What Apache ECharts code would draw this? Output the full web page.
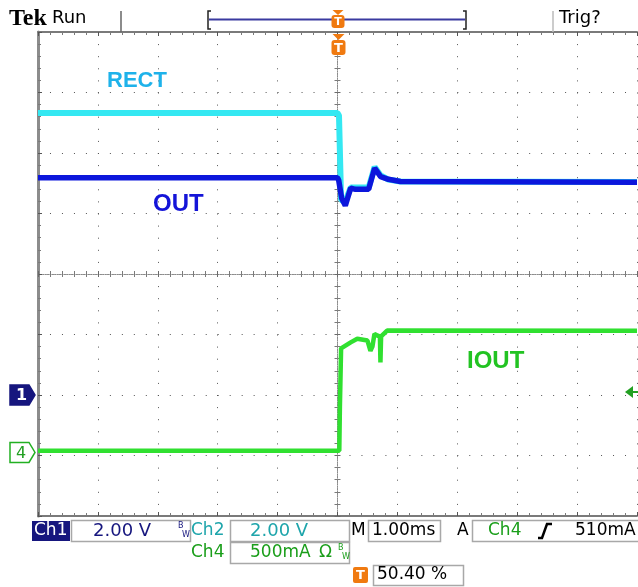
<!DOCTYPE html>
<html><head><meta charset="utf-8">
<script src="https://cdn.jsdelivr.net/npm/echarts@6/dist/echarts.min.js"></script>
<style>html,body{margin:0;padding:0;background:#fff}#c{width:638px;height:587px}</style>
</head><body><div id="c"></div>
<script>
// Time in ms (1.00 ms/div, trigger at 0); vertical values in screen divisions (0 = centre)
const rectT = [-5, 0, 0.025, 0.06, 0.13, 0.22, 0.52, 0.62, 0.72, 0.85, 1.05, 5];
const rectV = [2.66, 2.66, 2.62, 1.22, 1.20, 1.43, 1.43, 1.77, 1.63, 1.56, 1.53, 1.52];
const outT = [-5, 0, 0.02, 0.07, 0.13, 0.22, 0.30, 0.52, 0.62, 0.72, 0.85, 1.05, 5];
const outV = [1.59, 1.59, 1.55, 1.25, 1.13, 1.42, 1.40, 1.40, 1.75, 1.61, 1.565, 1.53, 1.515];
const ioutT = [-5, 0.03, 0.04, 0.06, 0.22, 0.33, 0.50, 0.55, 0.583, 0.617, 0.672, 0.708, 0.717, 0.728, 0.828, 5];
const ioutV = [-2.92, -2.92, -2.2, -1.23, -1.13, -1.07, -1.10, -1.27, -1.20, -0.99, -1.02, -1.03, -1.46, -1.03, -0.935, -0.94];
const ch1Ground = -2.0;     // div
const ch4Ground = -2.95;    // div
const trigLevel = -1.95;    // div (510 mA on Ch4)
const trigTime = 0;

const zip = (t, v) => t.map((x, i) => [x, v[i]]);
const G = {left: 38, top: 32, width: 599, height: 484};
const noLabel = {show: false};
function xa(extra) {
  return Object.assign({type: 'value', min: -5, max: 5, interval: 1, axisLabel: noLabel, splitLine: {show: false}}, extra);
}
function ya(extra) {
  return Object.assign({type: 'value', min: -4, max: 4, interval: 1, axisLabel: noLabel, splitLine: {show: false}}, extra);
}
const borderLine = c => ({onZero: false, lineStyle: {color: c, width: 2}});
const centreLine = {onZero: false, lineStyle: {color: '#8a8a8a', width: 1, type: [1, 1.4]}};
const tk = inside => ({inside: inside, length: 3, lineStyle: {color: '#6a6a6a'}});
const mtk = {show: true, splitNumber: 5, length: 3, lineStyle: {color: '#7a7a7a'}};

const chart = echarts.init(document.getElementById('c'));
chart.setOption({
  animation: false,
  backgroundColor: '#fff',
  grid: G,
  xAxis: [
    xa({position: 'bottom', axisLine: borderLine('#7a7a7a'), axisTick: {inside: true, length: 4, lineStyle: {color: '#555'}}, minorTick: mtk,
        splitLine: {show: true, lineStyle: {color: '#555', width: 1, type: [1, 11.1]}}}),
    xa({position: 'top', axisLine: borderLine('#7a7a7a'), axisTick: {inside: true, length: 4, lineStyle: {color: '#555'}}, minorTick: mtk}),
    xa({position: 'bottom', offset: -G.height / 2, axisLine: centreLine, axisTick: tk(true), minorTick: mtk}),
    xa({position: 'bottom', offset: -G.height / 2, axisLine: centreLine, axisTick: tk(false), minorTick: mtk})
  ],
  yAxis: [
    ya({position: 'left', axisLine: {onZero: false, lineStyle: {color: '#8c8c8c', width: 3}}, axisTick: {inside: true, length: 4, lineStyle: {color: '#555'}}, minorTick: mtk,
        splitLine: {show: true, lineStyle: {color: '#555', width: 1, type: [1, 10.98]}}}),
    ya({position: 'left', offset: -G.width / 2, axisLine: centreLine, axisTick: tk(true), minorTick: mtk}),
    ya({position: 'left', offset: -G.width / 2, axisLine: centreLine, axisTick: tk(false), minorTick: mtk})
  ],
  series: [
    {name: 'RECT', type: 'line', data: zip(rectT, rectV), symbol: 'none', silent: true, lineStyle: {color: '#34e8f2', width: 6}, z: 3},
    {name: 'OUT', type: 'line', data: zip(outT, outV), symbol: 'none', silent: true, lineStyle: {color: '#0c16dc', width: 5.5}, z: 4},
    {name: 'IOUT', type: 'line', data: zip(ioutT, ioutV), symbol: 'none', silent: true, lineStyle: {color: '#30e030', width: 4.5}, z: 5}
  ]
});

const px = (x, y) => chart.convertToPixel({gridIndex: 0}, [x, y]);
const y1 = px(0, ch1Ground)[1], y4 = px(0, ch4Ground)[1], yT = px(0, trigLevel)[1], xT = px(trigTime, 0)[0];
const ORANGE = '#f07a10', NAVY = '#16167e', TEAL = '#1ea5ab', GREEN = '#1a9e1a';
const F = 'DejaVu Sans';
const txt = (x, y, s, o) => ({type: 'text', x: x, y: y, z: 50, style: Object.assign({text: s, fill: '#000', font: '17px "' + F + '"', verticalAlign: 'middle'}, o || {})});
const box = (x, y, w, h) => ({type: 'rect', z: 40, shape: {x: x, y: y, width: w, height: h}, style: {fill: 'none', stroke: '#a8a8a8', lineWidth: 1.5}});
const pent = (yy, fill, stroke) => ({type: 'polygon', z: 50, shape: {points: [[10, yy - 10], [29, yy - 10], [35, yy], [29, yy + 10], [10, yy + 10]]}, style: {fill: fill, stroke: stroke, lineWidth: 1.5}});
const tMark = (x, yTop, w, triH, h, fs) => [
  {type: 'polygon', z: 50, shape: {points: [[x - w / 2 + 1, yTop], [x + w / 2 - 1, yTop], [x, yTop + triH]]}, style: {fill: ORANGE}},
  {type: 'rect', z: 50, shape: {x: x - w / 2, y: yTop + triH, width: w, height: h, r: 3}, style: {fill: ORANGE}},
  {type: 'text', z: 51, x: x, y: yTop + triH + h / 2 + 1, style: {text: 'T', fill: '#fff', font: 'bold ' + fs + 'px "' + F + '"', align: 'center', verticalAlign: 'middle'}}
];

const g = [
  // top bar
  txt(9, 19, 'Tek', {font: 'bold 24px "Liberation Serif"'}),
  txt(52, 18, 'Run', {font: '18px "' + F + '"'}),
  {type: 'line', z: 40, shape: {x1: 121, y1: 11, x2: 121, y2: 32}, style: {stroke: '#666', lineWidth: 1.5}},
  {type: 'polyline', z: 40, shape: {points: [[211, 11], [208, 11], [208, 29], [211, 29]]}, style: {stroke: '#222', lineWidth: 1.5, fill: 'none'}},
  {type: 'polyline', z: 40, shape: {points: [[463, 11], [466, 11], [466, 29], [463, 29]]}, style: {stroke: '#222', lineWidth: 1.5, fill: 'none'}},
  {type: 'line', z: 40, shape: {x1: 209, y1: 19.5, x2: 465, y2: 19.5}, style: {stroke: '#3a3aa0', lineWidth: 2}},
  ...tMark(xT + 0.5, 10, 13, 5, 13, 11),
  {type: 'line', z: 40, shape: {x1: 553, y1: 11, x2: 553, y2: 32}, style: {stroke: '#bbb', lineWidth: 1.5}},
  txt(559, 18, 'Trig?', {font: '18px "' + F + '"'}),
  // trigger marker in plot
  ...tMark(xT + 1, 34, 14, 6, 15, 13),
  // trace labels
  txt(107, 81, 'RECT', {font: 'bold 22px "Liberation Sans"', fill: '#1eb2ea'}),
  txt(153, 204, 'OUT', {font: 'bold 24px "Liberation Sans"', fill: '#1414d8'}),
  txt(467, 361, 'IOUT', {font: 'bold 24px "Liberation Sans"', fill: '#22c322'}),
  // channel ground markers
  pent(y1, NAVY, NAVY),
  txt(16, y1 + 1, '1', {fill: '#fff', font: 'bold 16px "' + F + '"'}),
  pent(y4, '#fff', '#22b022'),
  txt(16, y4 + 1, '4', {fill: '#22a022', font: '16px "' + F + '"'}),
  // trigger level arrow
  {type: 'polygon', z: 50, shape: {points: [[625, yT], [633, yT - 6], [633, yT + 6]]}, style: {fill: '#22a022'}},
  {type: 'line', z: 50, shape: {x1: 632, y1: yT, x2: 638, y2: yT}, style: {stroke: '#22a022', lineWidth: 2}},
  // bottom status rows
  {type: 'rect', z: 40, shape: {x: 32, y: 521, width: 38, height: 20}, style: {fill: NAVY}},
  txt(34, 531, 'Ch1', {fill: '#fff'}),
  box(71.5, 520.5, 119, 21),
  txt(93, 531, '2.00 V', {fill: NAVY, font: '18px "' + F + '"'}),
  txt(178, 526, 'B', {fill: NAVY, font: '8px "' + F + '"'}),
  txt(182, 535, 'W', {fill: NAVY, font: '8px "' + F + '"'}),
  txt(191, 531, 'Ch2', {fill: TEAL}),
  box(230.5, 520.5, 119, 21),
  txt(250, 531, '2.00 V', {fill: TEAL, font: '18px "' + F + '"'}),
  txt(351, 531, 'M'),
  box(368.5, 520.5, 72, 21),
  txt(372, 531, '1.00ms'),
  txt(457, 531, 'A'),
  box(472.5, 520.5, 170, 21),
  txt(488, 531, 'Ch4', {fill: GREEN}),
  {type: 'polyline', z: 50, shape: {points: [[538, 538], [542, 538], [547, 524], [552, 524]]}, style: {stroke: '#000', lineWidth: 2.5, fill: 'none'}},
  txt(575, 531, '510mA'),
  txt(191, 553, 'Ch4', {fill: GREEN}),
  box(230.5, 542.5, 119, 21),
  txt(250, 553, '500mA', {fill: GREEN}),
  txt(319, 553, 'Ω', {fill: GREEN}),
  txt(338, 548, 'B', {fill: GREEN, font: '8px "' + F + '"'}),
  txt(342, 557, 'W', {fill: GREEN, font: '8px "' + F + '"'}),
  {type: 'rect', z: 50, shape: {x: 353, y: 567, width: 15, height: 16, r: 2}, style: {fill: ORANGE}},
  txt(360.5, 576, 'T', {fill: '#fff', font: 'bold 13px "' + F + '"', align: 'center'}),
  box(373.5, 565.5, 90, 20),
  txt(377, 575, '50.40 %')
];
chart.setOption({graphic: g});
</script>
</body></html>
